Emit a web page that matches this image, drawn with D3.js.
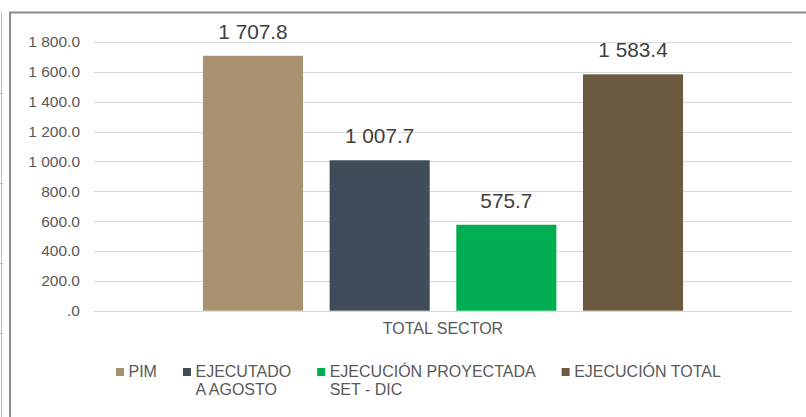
<!DOCTYPE html>
<html>
<head>
<meta charset="utf-8">
<script src="https://cdn.jsdelivr.net/npm/d3@7"></script>
<style>
  body { margin: 0; background: #fff; }
  svg { display: block; font-family: "Liberation Sans", Arial, sans-serif; }
</style>
</head>
<body>
<div id="chart"></div>
<script>
// data
const categories = ["TOTAL SECTOR"];
const seriesNames = ["PIM", "EJECUTADO\nA AGOSTO", "EJECUCIÓN PROYECTADA\nSET - DIC", "EJECUCIÓN TOTAL"];
const seriesValues = [1707.8, 1007.7, 575.7, 1583.4];
const seriesColors = ["#a89170", "#414c5a", "#00ad50", "#6b5a3e"];
const yTicks = [0, 200, 400, 600, 800, 1000, 1200, 1400, 1600, 1800];

const W = 806, H = 417;
const margin = {top: 42, right: 14, bottom: 106.3, left: 94};
const width = W - margin.left - margin.right,
  height = H - margin.top - margin.bottom;

const svg = d3.select("#chart").append("svg")
  .attr("width", W)
  .attr("height", H);

// page ruler line on the far left
svg.append("line")
  .attr("x1", 1.5).attr("x2", 1.5)
  .attr("y1", 12).attr("y2", H)
  .attr("stroke", "#f5a3a3").attr("stroke-width", 1);
[93, 183, 263, 333].forEach(yy => {
  svg.append("line")
    .attr("x1", 0).attr("x2", 3)
    .attr("y1", yy + 0.5).attr("y2", yy + 0.5)
    .attr("stroke", "#f5a3a3");
});

// chart frame (runs off the right and bottom edge)
svg.append("rect")
  .attr("x", 10).attr("y", 12.5)
  .attr("width", 820).attr("height", 430)
  .attr("fill", "none")
  .attr("stroke", "#8c8c8c")
  .attr("stroke-width", 2);

const g = svg.append("g")
  .attr("transform", "translate(" + margin.left + "," + margin.top + ")");

const loc = d3.formatLocale({decimal: ".", thousands: " ", grouping: [3], currency: ["", ""]});
const fmt = v => v === 0 ? ".0" : loc.format(",.1f")(v);

const x0 = d3.scaleBand()
  .domain(categories)
  .range([0, width]);

const x1 = d3.scaleBand()
  .domain(seriesNames)
  .range([0, x0.bandwidth()])
  .paddingInner(0.21)
  .paddingOuter(0.86);

const y = d3.scaleLinear()
  .domain([0, 1800])
  .range([height, 0]);

// grid
g.append("g")
  .selectAll("line")
  .data(yTicks)
  .enter().append("line")
  .attr("x1", 0)
  .attr("x2", width)
  .attr("y1", d => Math.round(y(d)) + 0.5)
  .attr("y2", d => Math.round(y(d)) + 0.5)
  .attr("stroke", "#d9d9d9")
  .attr("stroke-width", 1.2);

// y axis labels
const yAxis = g.append("g")
  .call(d3.axisLeft(y).tickValues(yTicks).tickFormat(fmt).tickSize(0).tickPadding(14));
yAxis.select(".domain").remove();
yAxis.selectAll("text")
  .attr("fill", "#595959")
  .style("font-size", "15.5px")
  .style("font-family", "'Liberation Sans', Arial, sans-serif");

// bars
const groups = g.selectAll(".cat")
  .data(categories)
  .enter().append("g")
  .attr("class", "cat")
  .attr("transform", d => "translate(" + x0(d) + ",0)");

groups.selectAll("rect")
  .data(seriesNames.map((s, i) => ({key: s, value: seriesValues[i], color: seriesColors[i]})))
  .enter().append("rect")
  .attr("x", d => x1(d.key))
  .attr("y", d => y(d.value))
  .attr("width", x1.bandwidth())
  .attr("height", d => y(0) - y(d.value))
  .attr("fill", d => d.color);

groups.selectAll(".lbl")
  .data(seriesNames.map((s, i) => ({key: s, value: seriesValues[i]})))
  .enter().append("text")
  .attr("class", "lbl")
  .attr("x", d => x1(d.key) + x1.bandwidth() / 2)
  .attr("y", d => y(d.value) - 17)
  .attr("text-anchor", "middle")
  .attr("fill", "#404040")
  .style("font-size", "20.8px")
  .text(d => fmt(d.value));

// x axis label
g.append("g")
  .attr("transform", "translate(0," + height + ")")
  .selectAll("text")
  .data(categories)
  .enter().append("text")
  .attr("x", d => x0(d) + x0.bandwidth() / 2)
  .attr("y", 23.5)
  .attr("text-anchor", "middle")
  .attr("fill", "#595959")
  .style("font-size", "16px")
  .text(d => d);

// legend
const legend = svg.append("g")
  .attr("transform", "translate(116,368)");
let lx = 0;
seriesNames.forEach((name, i) => {
  const item = legend.append("g").attr("transform", "translate(" + lx + ",0)");
  item.append("rect")
    .attr("width", 8)
    .attr("height", 8)
    .attr("fill", seriesColors[i]);
  const t = item.append("text")
    .attr("x", 12.5)
    .attr("y", 9.3)
    .attr("fill", "#595959")
    .style("font-size", "16px");
  name.split("\n").forEach((line, j) => {
    t.append("tspan")
      .attr("x", 12.5)
      .attr("dy", j === 0 ? 0 : 17.7)
      .text(line);
  });
  const tw = d3.max(t.selectAll("tspan").nodes(), n => n.getComputedTextLength());
  lx += 12.5 + tw + 26;
});
</script>
</body>
</html>
